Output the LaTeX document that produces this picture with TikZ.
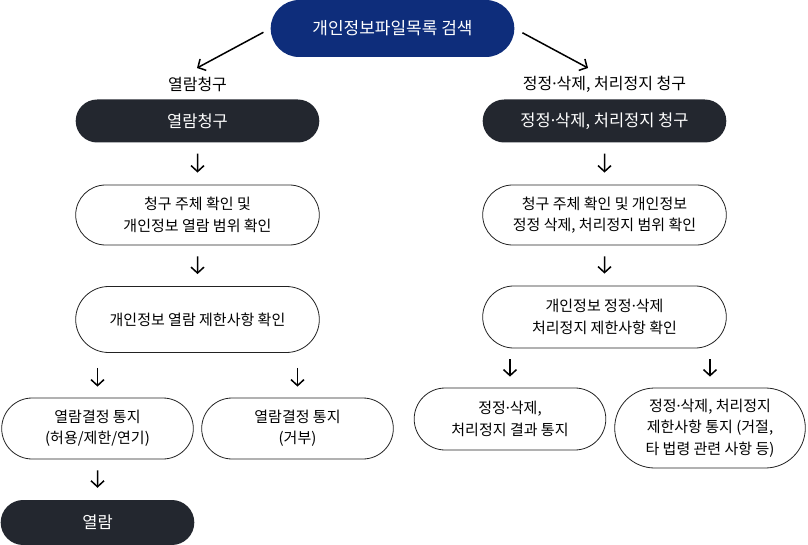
\documentclass[tikz,border=0pt]{standalone}
\usepackage{fontspec}
\setmainfont{Noto Sans CJK KR}
\newfontfamily\dotfont{Noto Sans}
\newcommand\middot{{\dotfont ·}}
\usetikzlibrary{arrows.meta,shapes.misc}
\usepackage{xcolor}
\definecolor{navy}{HTML}{0E2D7B}
\definecolor{dark}{HTML}{23272F}
\definecolor{edge}{HTML}{222222}
\tikzset{
  pill/.style={rounded rectangle, align=center, inner sep=2mm, font=\fontsize{15}{21.5}\selectfont},
  topbox/.style={pill, fill=navy, text=white, minimum width=255pt, minimum height=57pt, font=\fontsize{17}{21}\selectfont},
  darkbox/.style={pill, fill=dark, text=white, minimum height=43pt, font=\fontsize{16.5}{21}\selectfont},
  stepbox/.style={pill, draw=edge, line width=0.8pt, fill=white, minimum height=60pt},
  label/.style={font=\fontsize{16}{21}\selectfont, inner sep=1pt},
  arrow/.style={-{Straight Barb[length=6pt,width=13pt]}, line width=1.5pt, draw=black},
  down/.style={arrow, shorten <=11pt, shorten >=12pt}
}
\begin{document}
\begin{tikzpicture}[x=1pt, y=-1pt]
  \useasboundingbox (0,0) rectangle (808,545);
  \node[topbox] (search) at (392.5,28.5) {개인정보파일목록 검색};
  \node[label] (viewlab) at (197.5,84) {열람청구};
  \node[label] (fixlab) at (604.5,84) {정정\middot 삭제, 처리정지 청구};
  \coordinate (viewtip) at (197,68);
  \coordinate (fixtip) at (588,68);
  \draw[arrow, shorten <=8pt] (search.west) -- (viewtip);
  \draw[arrow, shorten <=9pt] (search.east) -- (fixtip);
  % 열람 쪽
  \node[darkbox, minimum width=255pt] (view) at (197.5,121) {열람청구};
  \node[stepbox, minimum width=255pt] (viewchk) at (197.5,215) {청구 주체 확인 및\\개인정보 열람 범위 확인};
  \node[stepbox, minimum width=255pt, minimum height=66pt] (viewlim) at (197.5,319.5) {개인정보 열람 제한사항 확인};
  \node[stepbox, minimum width=203pt, minimum height=61pt] (viewok) at (97.5,428.5) {열람결정 통지\\(허용/제한/연기)};
  \node[stepbox, minimum width=203pt, minimum height=61pt] (viewno) at (297.5,428.5) {열람결정 통지\\(거부)};
  \node[darkbox, minimum width=205pt, minimum height=45pt] (open) at (97.5,522.5) {열람};
  \draw[down] (view) -- (viewchk);
  \draw[down] (viewchk) -- (viewlim);
  \draw[arrow, shorten <=15pt, shorten >=11pt] (viewok |- viewlim.south) -- (viewok.north);
  \draw[arrow, shorten <=15pt, shorten >=11pt] (viewno |- viewlim.south) -- (viewno.north);
  \draw[down] (viewok) -- (open);
  % 정정·삭제 쪽
  \node[darkbox, minimum width=255pt] (fix) at (604.5,121) {정정\middot 삭제, 처리정지 청구};
  \node[stepbox, minimum width=255pt] (fixchk) at (604.5,215) {청구 주체 확인 및 개인정보\\정정 삭제, 처리정지 범위 확인};
  \node[stepbox, minimum width=255pt, minimum height=62pt] (fixlim) at (604.5,317) {개인정보 정정\middot 삭제\\처리정지 제한사항 확인};
  \node[stepbox, minimum width=203pt, minimum height=62pt] (fixok) at (510,419) {정정\middot 삭제,\\처리정지 결과 통지};
  \node[stepbox, minimum width=202pt, minimum height=80pt] (fixno) at (710,428) {정정\middot 삭제, 처리정지\\제한사항 통지 (거절,\\타 법령 관련 사항 등)};
  \draw[down] (fix) -- (fixchk);
  \draw[down] (fixchk) -- (fixlim);
  \draw[arrow, shorten <=11pt, shorten >=11pt] (fixok |- fixlim.south) -- (fixok.north);
  \draw[arrow, shorten <=11pt, shorten >=11pt] (fixno |- fixlim.south) -- (fixno.north);
\end{tikzpicture}
\end{document}
